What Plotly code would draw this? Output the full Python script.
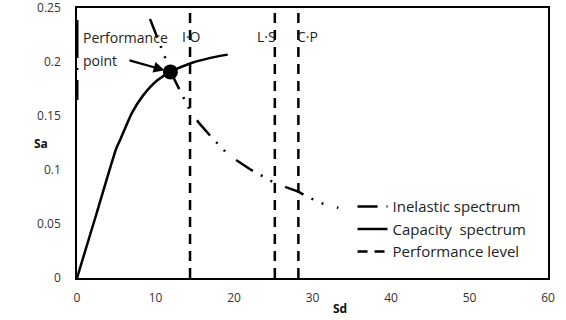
import plotly.graph_objects as go

# Capacity spectrum (Sd, Sa)
cap_sd = [0, 2.5, 5.0, 5.5, 7.0, 8.4, 10.2, 11.9, 14.5, 17.0, 19.2]
cap_sa = [0, 0.060, 0.120, 0.128, 0.153, 0.169, 0.183, 0.191, 0.199, 0.204, 0.207]

# Inelastic demand spectrum (Sd, Sa)
dem_sd = [9.3, 12.0, 14.4, 15.5, 17.2, 19.3, 22.0, 25.2, 28.2, 29.4, 31.3, 33.3]
dem_sa = [0.240, 0.190, 0.155, 0.144, 0.130, 0.114, 0.101, 0.088, 0.080, 0.075, 0.069, 0.065]

# Spectrum segment on the Sa axis
axis_sd = [0, 0]
axis_sa = [0.239, 0.165]

# Performance levels
level_names = ["I·O", "L·S", "C·P"]
level_sd = [14.4, 25.2, 28.2]
level_label_sd = [14.6, 24.1, 29.4]

# Performance point
pp_sd = [11.9]
pp_sa = [0.191]

# Ticks
x_ticks = [0, 10, 20, 30, 40, 50, 60]
y_ticks = [0, 0.05, 0.1, 0.15, 0.2, 0.25]
y_tick_text = ["0", "0.05", "0.1", "0.15", "0.2", "0.25"]

font = "Open Sans, Noto Sans, sans-serif"

fig = go.Figure()

fig.add_trace(go.Scatter(x=dem_sd, y=dem_sa, mode="lines", name="Inelastic spectrum",
                         line=dict(color="black", width=2.5, dash="20px,9px,2px,9px,2px,14px")))
fig.add_trace(go.Scatter(x=axis_sd, y=axis_sa, mode="lines", showlegend=False,
                         line=dict(color="black", width=3, dash="38px,10px,2px,10px")))
fig.add_trace(go.Scatter(x=cap_sd, y=cap_sa, mode="lines", name="Capacity  spectrum",
                         line=dict(color="black", width=2.5, shape="spline", smoothing=0.6)))
for i, (nm, sd) in enumerate(zip(level_names, level_sd)):
    fig.add_trace(go.Scatter(x=[sd, sd], y=[0, 0.246], mode="lines",
                             name="Performance level", showlegend=(i == 0),
                             line=dict(color="black", width=2.5, dash="10px,7px")))
fig.add_trace(go.Scatter(x=pp_sd, y=pp_sa, mode="markers", showlegend=False,
                         marker=dict(color="black", size=15)))

for nm, lx in zip(level_names, level_label_sd):
    fig.add_annotation(x=lx, y=0.224, text=nm, showarrow=False,
                       font=dict(family=font, size=14, color="#222"))

fig.add_annotation(x=pp_sd[0], y=pp_sa[0], ax=6.5, ay=0.202, axref="x", ayref="y",
                   text="", showarrow=True, arrowhead=2, arrowsize=1, arrowwidth=2.2,
                   arrowcolor="black", standoff=6)
fig.add_annotation(x=0.5, y=0.223, text="Performance", showarrow=False,
                   xanchor="left", yanchor="middle",
                   font=dict(family=font, size=14, color="#222"))
fig.add_annotation(x=0.5, y=0.2015, text="point", showarrow=False,
                   xanchor="left", yanchor="middle",
                   font=dict(family=font, size=14, color="#222"))

# axis titles
fig.add_annotation(xref="paper", yref="paper", x=-0.095, y=0.5, text="<b>Sa</b>",
                   showarrow=False, font=dict(family=font, size=12, color="#111"))
fig.add_annotation(xref="paper", yref="paper", x=0.559, y=-0.152, yanchor="bottom",
                   text="<b>Sd</b>", showarrow=False,
                   font=dict(family=font, size=12, color="#111"))

fig.update_layout(
    width=566, height=320,
    margin=dict(l=77, r=18, t=8, b=42, autoexpand=False),
    paper_bgcolor="white", plot_bgcolor="white",
    font=dict(family=font, size=11, color="#333"),
    showlegend=True,
    legend=dict(x=0.585, y=0.325, xanchor="left", yanchor="top",
                bgcolor="rgba(0,0,0,0)", font=dict(family=font, size=15, color="#222"),
                tracegroupgap=0, itemwidth=30),
    xaxis=dict(range=[0, 60], tickvals=x_ticks, showgrid=False, zeroline=False,
               showline=True, linecolor="black", linewidth=1.5, mirror=True,
               ticks="", tickfont=dict(size=12, color="#333"), automargin=False,
               ticklabelstandoff=8, ticklabeloverflow="allow"),
    yaxis=dict(range=[0, 0.2502], tickvals=y_ticks, ticktext=y_tick_text,
               showgrid=False, zeroline=False,
               showline=True, linecolor="black", linewidth=1.5, mirror=True,
               ticks="", tickfont=dict(size=12, color="#333"),
               automargin=False, ticklabelstandoff=12, ticklabeloverflow="allow"),
)

fig.write_html("out.html", config={"displayModeBar": False},
               post_script="document.body.style.margin='0';document.body.style.overflow='hidden';")
